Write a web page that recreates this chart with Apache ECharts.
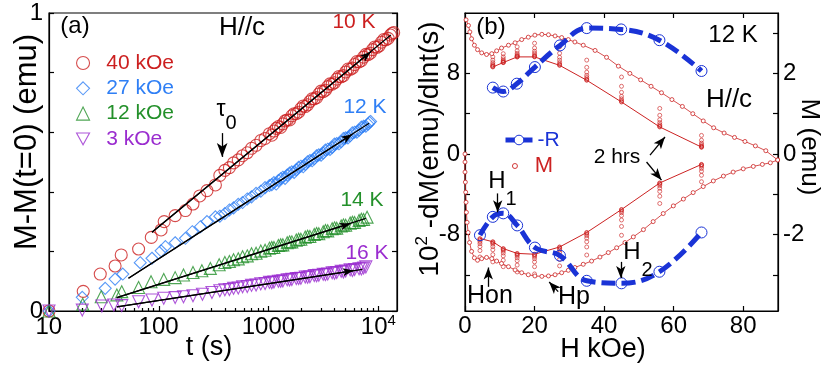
<!DOCTYPE html>
<html>
<head>
<meta charset="utf-8">
<script src="https://cdn.jsdelivr.net/npm/echarts@6.0.0/dist/echarts.min.js"></script>
<style>
html, body { margin: 0; padding: 0; background: #fff; }
#chart { width: 830px; height: 374px; }
</style>
</head>
<body>
<div id="chart"></div>
<script>
const FONT = '"Liberation Sans", Arial, sans-serif'
const RED_A = '#cc1f1f', BLUE_A = '#2f7ff5', GREEN_A = '#23902a', PURPLE_A = '#9a2ccf'
const RED_B = '#cc2222', BLUE_B = '#1a33d6'

// ---- panel (a): M - M(t=0) vs t, [t (s), emu]
const red40 = [
  [10,0],[20.5,0.066],[29.3,0.124],[40,0.151],[45.5,0.188],[65.5,0.208],[85.5,0.247],[105,0.272],[112,0.300],[141,0.320],
  [175,0.337],[205,0.359],[236,0.386],[275,0.404],[328,0.423],[360,0.455],[400,0.472],[440,0.481],[480,0.497],[530,0.507],
  [580,0.521],[640,0.531],[700,0.546],[770,0.556],[850,0.572],[930,0.579],[1020,0.595],[1120,0.604],[1230,0.619],[1350,0.628],
  [1480,0.641],[1630,0.655],[1790,0.662],[1970,0.679],[2160,0.686],[2380,0.703],[2610,0.712],[2870,0.728],[3150,0.736],[3460,0.753],
  [3800,0.761],[4180,0.778],[4590,0.786],[5040,0.802],[5540,0.811],[6080,0.827],[6680,0.836],[7340,0.852],[8060,0.860],[8860,0.877],
  [9730,0.885],[10700,0.902],[11700,0.910],[12900,0.926],[13800,0.934]
]
const red40Late = [
  [1070,0.590],[1175,0.613],[1290,0.616],[1415,0.638],[1555,0.641],[1710,0.662],[1880,0.667],[2070,0.688],[2270,0.692],[2495,0.712],
  [2740,0.716],[3010,0.738],[3300,0.741],[3630,0.762],[3990,0.766],[4380,0.787],[4810,0.790],[5290,0.812],[5810,0.815],[6380,0.837],
  [7010,0.840],[7700,0.861],[8460,0.865],[9290,0.886],[10200,0.890],[11200,0.911],[12300,0.915],[13300,0.931]
]
const blue27 = [
  [10,0],[20.1,0.046],[32.5,0.076],[40,0.107],[47,0.124],[67.8,0.162],[86.7,0.177],[105,0.202],[115,0.216],[141,0.229],
  [175,0.244],[202,0.266],[240,0.283],[275,0.300],[328,0.316],[360,0.318],[400,0.327],[440,0.339],[480,0.346],[530,0.358],
  [580,0.364],[640,0.376],[700,0.383],[770,0.395],[850,0.402],[930,0.414],[1020,0.421],[1120,0.431],[1230,0.438],[1350,0.449],
  [1480,0.456],[1630,0.467],[1790,0.474],[1970,0.486],[2160,0.492],[2380,0.505],[2610,0.511],[2870,0.524],[3150,0.530],[3460,0.543],
  [3800,0.549],[4180,0.562],[4590,0.568],[5040,0.581],[5540,0.588],[6080,0.600],[6680,0.607],[7340,0.620],[8060,0.627],[8500,0.636]
]
const blue27Late = [
  [1070,0.424],[1175,0.426],[1290,0.444],[1415,0.445],[1555,0.463],[1710,0.465],[1880,0.482],[2070,0.484],[2270,0.501],[2495,0.504],
  [2740,0.521],[3010,0.523],[3300,0.540],[3630,0.542],[3990,0.560],[4380,0.561],[4810,0.579],[5290,0.581],[5810,0.598],[6380,0.600],
  [7010,0.617],[7700,0.620],[8300,0.633]
]
const green12 = [
  [10,0],[20.3,0.023],[29.9,0.048],[41.5,0.054],[46,0.065],[65.5,0.079],[85,0.098],[111,0.106],[141,0.112],[168,0.121],
  [205,0.129],[247,0.135],[295,0.143],[355,0.155],[400,0.163],[440,0.166],[480,0.172],[530,0.175],[580,0.182],[640,0.185],
  [700,0.192],[770,0.194],[850,0.201],[930,0.204],[1020,0.211],[1120,0.213],[1230,0.220],[1350,0.222],[1480,0.229],[1630,0.232],
  [1790,0.238],[1970,0.241],[2160,0.248],[2380,0.250],[2610,0.257],[2870,0.259],[3150,0.266],[3460,0.269],[3800,0.276],[4180,0.278],
  [4590,0.285],[5040,0.288],[5540,0.295],[6080,0.297],[6680,0.304],[7340,0.307],[7900,0.315]
]
const green12Late = [
  [1070,0.213],[1290,0.222],[1555,0.232],[1880,0.241],[2270,0.251],[2740,0.260],[3300,0.270],[3990,0.279],[4810,0.289],[5810,0.298],[7010,0.308]
]
const purple3 = [
  [10,0],[20.1,0.003],[30.3,0.017],[39,0.020],[46,0.018],[65.5,0.031],[86.7,0.037],[111,0.043],[141,0.045],[168,0.048],
  [205,0.051],[250,0.056],[305,0.062],[360,0.068],[400,0.071],[440,0.072],[480,0.076],[530,0.077],[580,0.081],[640,0.082],
  [700,0.086],[770,0.087],[850,0.091],[930,0.092],[1020,0.096],[1120,0.097],[1230,0.100],[1350,0.101],[1480,0.105],[1630,0.106],
  [1790,0.109],[1970,0.110],[2160,0.114],[2380,0.115],[2610,0.119],[2870,0.120],[3150,0.123],[3460,0.124],[3800,0.128],[4180,0.129],
  [4590,0.133],[5040,0.134],[5540,0.138],[6080,0.139],[6680,0.142],[7340,0.144],[7700,0.148]
]
const purple3Late = [
  [1070,0.095],[1290,0.100],[1555,0.104],[1880,0.109],[2270,0.113],[2740,0.118],[3300,0.122],[3990,0.127],[4810,0.131],[5810,0.136],[7010,0.141]
]
// log fits: [start, end], and where the arrow head sits
const fitRed = [[86.7,0.264],[13000,0.926]], tipRed = [8550,0.870]
const fitBlue = [[53,0.110],[8240,0.630]], tipBlue = [5800,0.593]
const fitGreen = [[41.5,0.045],[7700,0.311]], tipGreen = [5610,0.294]
const fitPurple = [[41.5,0.014],[7180,0.140]], tipPurple = [5970,0.1355]
const tau0Arrow = [[378,0.597],[378,0.517]]

const tMajor = [10,100,1000,10000]
const tMinor = [20,30,40,50,60,70,80,90,200,300,400,500,600,700,800,900,2000,3000,4000,5000,6000,7000,8000,9000]

// ---- panel (b): 12 K, H//c
// -R (left axis, 10^2 -dM/dlnt)
const negRUp = [[8,6.59],[11,6.2],[14.9,6.98],[20.1,8.63],[27.3,10.78],[35,12.5],[44.9,12.37],[55.9,11.3],[68,8.24]]
const negRLow = [[4.3,-8.07],[8,-6.25],[11,-5.9],[15,-7.1],[20.1,-9.3],[27.3,-10.1],[35,-12.6],[45,-12.85],[55.9,-11.7],[68,-7.8]]

// M(H) loop (right axis, emu)
const mUp = [
  [0.3,3.33],[1.0,3.19],[1.4,3.03],[1.9,2.86],[2.7,2.70],[3.6,2.59],[4.8,2.51],[6.2,2.47],[7.7,2.49],[9.1,2.56],
  [10.5,2.63],[12.5,2.70],[14.4,2.76],[16.3,2.84],[18.2,2.90],[20.1,2.95],[22.1,2.97],[24.0,2.96],[25.9,2.93],[27.8,2.89],
  [29.7,2.84],[31.6,2.78],[34.0,2.70],[37.4,2.57],[40.7,2.40],[44.1,2.18],[47.4,2.00],[50.5,1.84],[53.5,1.68],[56.5,1.52],
  [59.5,1.35],[62.5,1.18],[65.5,1.00],[68.5,0.82],[71.5,0.65],[74.5,0.52],[77.5,0.41],[80.5,0.31],[83.5,0.20],[86.5,0.08],[89.9,-0.15]
]
const mLow = [
  [0,0],[0,-0.2],[0,-0.45],[0.1,-0.7],[0.2,-0.95],[0.3,-1.2],[0.4,-1.45],[0.6,-1.7],[0.9,-1.95],[1.3,-2.2],
  [1.9,-2.42],[2.7,-2.58],[3.6,-2.64],[4.8,-2.60],[6.2,-2.57],[7.7,-2.60],[9.1,-2.66],[10.5,-2.72],[12.5,-2.80],[14.4,-2.88],
  [16.3,-2.95],[18.2,-3.00],[20.1,-3.03],[22.1,-3.04],[24.0,-3.03],[25.9,-3.00],[27.8,-2.95],[29.7,-2.89],[31.6,-2.82],[34.0,-2.74],
  [36.4,-2.66],[38.8,-2.56],[41.2,-2.45],[43.6,-2.33],[46.0,-2.20],[48.4,-2.06],[51.3,-1.88],[54.1,-1.68],[57.0,-1.48],[59.9,-1.29],
  [62.8,-1.12],[65.6,-0.96],[68.5,-0.81],[71.4,-0.67],[74.3,-0.55],[77.1,-0.45],[80.0,-0.37],[82.9,-0.31],[85.5,-0.26],[87.8,-0.22],[89.9,-0.15]
]

// 2 hrs relaxation at fixed fields (emu), first to last reading
const relaxUpH = [8, 11, 15, 20, 27.2, 35, 45, 56, 68]
const relaxUp = [
  [2.41,2.33,2.27,2.23,2.20,2.18,2.17,2.16],
  [2.49,2.41,2.36,2.32,2.30,2.28,2.27,2.27],
  [2.66,2.56,2.50,2.46,2.44,2.42,2.41,2.41],
  [2.75,2.63,2.55,2.50,2.46,2.43,2.42,2.41],
  [2.66,2.50,2.40,2.33,2.27,2.23,2.21,2.20],
  [2.33,2.15,2.03,1.95,1.90,1.86,1.84,1.83],
  [1.91,1.68,1.53,1.43,1.37,1.33,1.30,1.29],
  [1.13,0.96,0.85,0.78,0.73,0.70,0.68,0.67],
  [0.46,0.34,0.27,0.23,0.20,0.18,0.17,0.17]
]
const relaxLowH = [4.3, 8, 11, 15, 20, 27.2, 35, 45, 56, 68]
const relaxLow = [
  [-2.56,-2.40,-2.30,-2.23,-2.18,-2.14,-2.12,-2.10],
  [-2.68,-2.50,-2.38,-2.30,-2.24,-2.21,-2.19,-2.18],
  [-2.80,-2.64,-2.53,-2.46,-2.41,-2.38,-2.36,-2.35],
  [-2.93,-2.76,-2.65,-2.58,-2.53,-2.50,-2.48,-2.47],
  [-2.98,-2.80,-2.68,-2.60,-2.55,-2.52,-2.50,-2.49],
  [-2.78,-2.62,-2.51,-2.44,-2.38,-2.35,-2.32,-2.31],
  [-2.51,-2.31,-2.18,-2.09,-2.03,-1.99,-1.96,-1.95],
  [-2.02,-1.80,-1.64,-1.53,-1.46,-1.42,-1.39,-1.38],
  [-1.23,-1.05,-0.93,-0.85,-0.79,-0.75,-0.73,-0.72],
  [-0.69,-0.53,-0.43,-0.36,-0.31,-0.28,-0.27,-0.26]
]

// annotation arrows in panel (b), [H, M(emu)]
const arrowsB = [
  [[53.2,-0.03],[57.5,0.42]],   // 2 hrs
  [[52.2,-0.20],[56.5,-0.65]],  // 2 hrs
  [[9.4,-0.98],[9.4,-1.45]],    // H1
  [[6.7,-3.30],[6.7,-2.82]],    // Hon
  [[26.8,-3.42],[24.2,-3.18]],  // Hp
  [[44.8,-2.68],[44.8,-3.08]]   // H2
]

const stackPoints = (hs, vals) => hs.flatMap((h, i) => vals[i].map(m => [h, m]))
const stackEnds = (hs, vals) => hs.map((h, i) => [h, vals[i][vals[i].length - 1]])

const black = { color: '#000', width: 1.2 }

function txt(x, y, text, size, color, rot, rich) {
  return {
    type: 'text', x: x, y: y, rotation: rot || 0, silent: true, z: 100,
    style: {
      text: text, fill: color || '#000', fontSize: size, fontFamily: FONT,
      align: 'center', verticalAlign: 'middle', textAlign: 'center', textVerticalAlign: 'middle',
      rich: rich
    }
  }
}

function arrowLine(pairs, size) {
  return {
    silent: true, symbol: ['none', 'arrow'], symbolSize: size,
    label: { show: false }, emphasis: { disabled: true },
    lineStyle: { color: '#000', width: 1.3, type: 'solid' },
    data: pairs.map(p => [{ coord: p[0] }, { coord: p[1] }])
  }
}

function scatterA(name, data, symbol, color, rotate) {
  return {
    name: name, type: 'scatter', xAxisIndex: 0, yAxisIndex: 0, data: data,
    symbol: symbol, symbolSize: 12, symbolRotate: rotate || 0,
    itemStyle: { color: 'transparent', borderColor: color, borderWidth: 1.1 }
  }
}

function fitA(fit, tip) {
  return {
    type: 'line', xAxisIndex: 0, yAxisIndex: 0, data: fit, symbol: 'none', z: 5,
    lineStyle: { color: '#000', width: 1.3 },
    markLine: arrowLine([[fit[0], tip]], [6, 11])
  }
}

const tickLabelA = {
  b: { fontSize: 24, lineHeight: 26, verticalAlign: 'bottom', color: '#000', fontFamily: FONT },
  sup: { fontSize: 15, lineHeight: 15, padding: [0, 0, 18, 0], verticalAlign: 'top', color: '#000', fontFamily: FONT },
  s: { fontSize: 1, lineHeight: 1, padding: [0, 0, 32, 0], verticalAlign: 'top' }
}

const chart = echarts.init(document.getElementById('chart'), null, { renderer: 'canvas' })

chart.setOption({
  animation: false,
  backgroundColor: '#fff',
  textStyle: { fontFamily: FONT },
  grid: [
    { left: 49, top: 13, width: 348, height: 298, show: true, borderColor: '#000', borderWidth: 1.2, containLabel: false, outerBoundsMode: 'none' },
    { left: 465, top: 13, width: 313, height: 298, show: true, borderColor: '#000', borderWidth: 1.2, containLabel: false, outerBoundsMode: 'none' }
  ],
  xAxis: [
    {
      gridIndex: 0, type: 'log', logBase: 10, min: 10, max: 14800, position: 'bottom',
      axisLine: { onZero: false, lineStyle: black },
      axisTick: { inside: true, length: 5, lineStyle: black, customValues: tMajor },
      axisLabel: {
        customValues: tMajor, margin: 2, color: '#000', rich: tickLabelA,
        formatter: v => Math.round(v) === 10000 ? '{b|10}{sup|4}' : '{b|' + Math.round(v) + '}{s| }'
      },
      splitLine: { show: false }
    },
    {
      gridIndex: 0, type: 'log', logBase: 10, min: 10, max: 14800, position: 'bottom',
      axisLine: { show: false, onZero: false },
      axisTick: { inside: true, length: 3, lineStyle: black, customValues: tMinor },
      axisLabel: { show: false }, splitLine: { show: false }
    },
    {
      gridIndex: 1, type: 'value', min: 0, max: 90, position: 'bottom',
      axisLine: { onZero: false, lineStyle: black },
      axisTick: { inside: true, length: 5, lineStyle: black, customValues: [0, 20, 40, 60, 80] },
      axisLabel: { customValues: [0, 20, 40, 60, 80], margin: 3, fontSize: 24, color: '#000' },
      splitLine: { show: false }
    },
    {
      gridIndex: 1, type: 'value', min: 0, max: 90, position: 'top',
      axisLine: { onZero: false, lineStyle: black },
      axisTick: { inside: true, length: 5, lineStyle: black, customValues: [20, 40, 60, 80] },
      axisLabel: { show: false }, splitLine: { show: false }
    }
  ],
  yAxis: [
    {
      gridIndex: 0, type: 'value', min: 0, max: 1, interval: 0.2, position: 'left',
      axisLine: { onZero: false, lineStyle: black },
      axisTick: { inside: true, length: 5, lineStyle: black },
      axisLabel: { customValues: [0, 1], margin: 6, fontSize: 24, color: '#000' },
      splitLine: { show: false }
    },
    {
      gridIndex: 0, type: 'value', min: 0, max: 1, interval: 0.2, position: 'right',
      axisLine: { onZero: false, lineStyle: black },
      axisTick: { inside: true, length: 5, lineStyle: black },
      axisLabel: { show: false }, splitLine: { show: false }
    },
    {
      gridIndex: 1, type: 'value', min: -15.6, max: 14, position: 'left',
      axisLine: { onZero: false, lineStyle: black },
      axisTick: { inside: true, length: 5, lineStyle: black, customValues: [-12, -8, -4, 0, 4, 8, 12] },
      axisLabel: { customValues: [-8, 0, 8], margin: 5, fontSize: 24, color: '#000' },
      splitLine: { show: false }
    },
    {
      gridIndex: 1, type: 'value', min: -3.9, max: 3.5, position: 'right',
      axisLine: { onZero: false, lineStyle: black },
      axisTick: { inside: true, length: 5, lineStyle: black, customValues: [-3, -2, -1, 0, 1, 2, 3] },
      axisLabel: { customValues: [-2, 0, 2], margin: 5, fontSize: 24, color: '#000' },
      splitLine: { show: false }
    }
  ],
  legend: [
    {
      left: 76, top: 52, orient: 'vertical', padding: 0, itemGap: 3.3, itemWidth: 13, itemHeight: 13,
      selectedMode: false, textStyle: { fontSize: 21, lineHeight: 22, fontFamily: FONT },
      formatter: n => '  ' + n,
      data: [
        { name: '40 kOe', icon: 'circle', itemStyle: { color: 'transparent', borderColor: RED_A, borderWidth: 1.1 }, textStyle: { color: RED_A } },
        { name: '27 kOe', icon: 'diamond', itemStyle: { color: 'transparent', borderColor: BLUE_A, borderWidth: 1.1 }, textStyle: { color: BLUE_A } },
        { name: '12 kOe', icon: 'triangle', itemStyle: { color: 'transparent', borderColor: GREEN_A, borderWidth: 1.1 }, textStyle: { color: GREEN_A } },
        { name: '3 kOe', icon: 'path://M0,0L12,0L6,11Z', itemStyle: { color: 'transparent', borderColor: PURPLE_A, borderWidth: 1.1 }, textStyle: { color: PURPLE_A } }
      ]
    },
    {
      left: 503, top: 129, padding: 0, itemWidth: 27, itemHeight: 12, selectedMode: false,
      textStyle: { fontSize: 21, lineHeight: 22, fontFamily: FONT },
      data: [{
        name: '-R', textStyle: { color: BLUE_B },
        lineStyle: { color: BLUE_B, width: 5, type: 'solid' },
        itemStyle: { color: '#fff', borderColor: BLUE_B, borderWidth: 1 }
      }]
    },
    {
      left: 512, top: 155, padding: 0, itemWidth: 5, itemHeight: 5, selectedMode: false,
      textStyle: { fontSize: 22, lineHeight: 22, fontFamily: FONT },
      formatter: n => '  ' + n,
      data: [{ name: 'M', icon: 'circle', itemStyle: { color: '#fff', borderColor: RED_B, borderWidth: 0.9 }, textStyle: { color: RED_B } }]
    }
  ],
  series: [
    scatterA('40 kOe', red40.concat(red40Late), 'circle', RED_A),
    scatterA('27 kOe', blue27.concat(blue27Late), 'diamond', BLUE_A),
    scatterA('12 kOe', green12.concat(green12Late), 'triangle', GREEN_A),
    scatterA('3 kOe', purple3.concat(purple3Late), 'triangle', PURPLE_A, 180),
    fitA(fitRed, tipRed),
    fitA(fitBlue, tipBlue),
    fitA(fitGreen, tipGreen),
    fitA(fitPurple, tipPurple),
    {
      type: 'line', xAxisIndex: 0, yAxisIndex: 0, data: [], symbol: 'none',
      markLine: arrowLine([tau0Arrow], [8, 14])
    },
    // panel (b)
    {
      name: 'relax', type: 'scatter', xAxisIndex: 2, yAxisIndex: 3, symbolSize: 4,
      data: stackPoints(relaxUpH, relaxUp).concat(stackPoints(relaxLowH, relaxLow)),
      itemStyle: { color: 'transparent', borderColor: RED_B, borderWidth: 0.8 }
    },
    {
      type: 'line', xAxisIndex: 2, yAxisIndex: 3, data: stackEnds(relaxUpH, relaxUp), symbol: 'none',
      lineStyle: { color: RED_B, width: 1 }
    },
    {
      type: 'line', xAxisIndex: 2, yAxisIndex: 3, data: stackEnds(relaxLowH, relaxLow), symbol: 'none',
      lineStyle: { color: RED_B, width: 1 }
    },
    {
      name: 'M', type: 'line', xAxisIndex: 2, yAxisIndex: 3, data: mUp, symbol: 'circle', symbolSize: 4, showAllSymbol: true,
      itemStyle: { color: '#fff', borderColor: RED_B, borderWidth: 0.8 }, lineStyle: { color: RED_B, width: 0.8 },
      markLine: arrowLine(arrowsB, [7, 12])
    },
    {
      name: 'M', type: 'line', xAxisIndex: 2, yAxisIndex: 3, data: mLow, symbol: 'circle', symbolSize: 4, showAllSymbol: true,
      itemStyle: { color: '#fff', borderColor: RED_B, borderWidth: 0.8 }, lineStyle: { color: RED_B, width: 0.8 }
    },
    {
      name: '-R', type: 'line', xAxisIndex: 2, yAxisIndex: 2, data: negRUp, smooth: 0.4, z: 4,
      symbol: 'circle', symbolSize: 11, showAllSymbol: true,
      itemStyle: { color: 'transparent', borderColor: BLUE_B, borderWidth: 1 },
      lineStyle: { color: BLUE_B, width: 5, type: [14, 6] }
    },
    {
      name: '-R', type: 'line', xAxisIndex: 2, yAxisIndex: 2, data: negRLow, smooth: 0.4, z: 4,
      symbol: 'circle', symbolSize: 11, showAllSymbol: true,
      itemStyle: { color: 'transparent', borderColor: BLUE_B, borderWidth: 1 },
      lineStyle: { color: BLUE_B, width: 5, type: [14, 6] }
    }
  ],
  graphic: [
    txt(75, 26, '(a)', 24),
    txt(242, 28, 'H//c', 26),
    txt(354, 22, '10 K', 21, RED_A),
    txt(365, 107, '12 K', 21, BLUE_A),
    txt(362, 200, '14 K', 21, GREEN_A),
    txt(367, 253, '16 K', 21, PURPLE_A),
    txt(221, 110, 'τ', 23),
    txt(231, 123, '0', 20),
    txt(27, 142, 'M-M(t=0) (emu)', 31, '#000', Math.PI / 2),
    txt(209, 348, 't (s)', 27),
    txt(491, 27, '(b)', 24),
    txt(733, 35, '12 K', 24),
    txt(729, 100, 'H//c', 26),
    txt(617, 157, '2 hrs', 21),
    txt(497, 181, 'H', 24),
    txt(511, 199, '1', 20),
    txt(490, 296, 'Hon', 25),
    txt(574, 297, 'Hp', 25),
    txt(632, 252, 'H', 24),
    txt(647, 270, '2', 20),
    txt(429, 149, '{b|10}{sup|2}{b| -dM(emu)/dlnt(s)}', 28, '#000', Math.PI / 2, {
      b: { fontSize: 28, lineHeight: 30, verticalAlign: 'bottom', fontFamily: FONT, color: '#000' },
      sup: { fontSize: 17, lineHeight: 17, padding: [0, 0, 20, 0], verticalAlign: 'top', fontFamily: FONT, color: '#000' }
    }),
    txt(809, 147, 'M (emu)', 26, '#000', -Math.PI / 2),
    txt(603, 350, 'H kOe)', 27)
  ]
})
</script>
</body>
</html>
